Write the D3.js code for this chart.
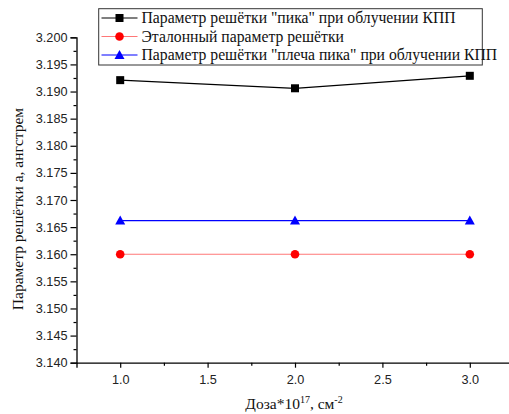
<!DOCTYPE html>
<html><head><meta charset="utf-8">
<script src="https://cdn.jsdelivr.net/npm/d3@7"></script>
<style>body{margin:0;background:#fff}svg{display:block}
.serif{font-family:"Liberation Serif","Times New Roman",serif}
.sans{font-family:"Liberation Sans",Arial,sans-serif}</style>
</head><body>
<svg id="c" width="509" height="414"></svg>
<script>
const doses = [1.0, 2.0, 3.0];
const peakValues = [3.1921, 3.1906, 3.1929];
const referenceValues = [3.160, 3.160, 3.160];
const shoulderValues = [3.1662, 3.1662, 3.1662];
const seriesNames = [
  'Параметр решётки "пика" при облучении КПП',
  'Эталонный параметр решётки',
  'Параметр решётки "плеча пика" при облучении КПП'
];
const xTicks = [1.0, 1.5, 2.0, 2.5, 3.0];
const yTicks = [3.140,3.145,3.150,3.155,3.160,3.165,3.170,3.175,3.180,3.185,3.190,3.195,3.200];

const svg = d3.select("#c");
const x = d3.scaleLinear().domain([0.75, 3.25]).range([76.5, 513.5]);
const y = d3.scaleLinear().domain([3.14, 3.20]).range([362.7, 37.3]);

const series = [
  {name: seriesNames[0], vals: peakValues, line: "#000", mark: "#000", shape: "square"},
  {name: seriesNames[1], vals: referenceValues, line: "#f77", mark: "#f00", shape: "circle"},
  {name: seriesNames[2], vals: shoulderValues, line: "#00f", mark: "#00f", shape: "triangle"}
];

function marker(g, shape, color, cx, cy) {
  if (shape === "square") g.append("rect").attr("x", cx-4).attr("y", cy-4).attr("width", 8).attr("height", 8).attr("fill", color);
  else if (shape === "circle") g.append("circle").attr("cx", cx).attr("cy", cy).attr("r", 4.3).attr("fill", color);
  else g.append("path").attr("d", `M${cx},${cy-5}L${cx+5},${cy+4}L${cx-5},${cy+4}Z`).attr("fill", color);
}

// Axes
const yAxis = svg.append("g").attr("transform", "translate(76.5,0)")
  .call(d3.axisLeft(y).tickValues(yTicks).tickFormat(d3.format(".3f")).tickSize(6).tickPadding(3));
const yMinor = svg.append("g").attr("transform", "translate(76.5,0)")
  .call(d3.axisLeft(y).tickValues(d3.range(0, 12).map(i => 3.1425 + i*0.005)).tickFormat("").tickSize(3));
const xAxis = svg.append("g").attr("transform", "translate(0,362.7)")
  .call(d3.axisBottom(x).tickValues(xTicks).tickFormat(d3.format(".1f")).tickSize(5).tickPadding(7));
const xMinor = svg.append("g").attr("transform", "translate(0,362.7)")
  .call(d3.axisBottom(x).tickValues([1.25,1.75,2.25,2.75]).tickFormat("").tickSize(3));
[yAxis, yMinor, xAxis, xMinor].forEach(a => {
  a.attr("font-family", null).attr("font-size", null);
  a.selectAll("path").attr("stroke", "#000").attr("stroke-width", 1.3);
  a.selectAll("line").attr("stroke", "#000").attr("stroke-width", 1.2);
  a.selectAll("text").attr("class", "sans").attr("font-size", 12.7).attr("fill", "#222");
});
yMinor.select("path").remove(); xMinor.select("path").remove();

// Lines and markers
const line = d3.line().x((d,i) => x(doses[i])).y(d => y(d));
series.forEach(s => {
  svg.append("path").attr("d", line(s.vals)).attr("fill", "none").attr("stroke", s.line).attr("stroke-width", 1.2);
  const g = svg.append("g");
  s.vals.forEach((v,i) => marker(g, s.shape, s.mark, x(doses[i]), y(v)));
});

// Legend
const lg = svg.append("g");
lg.append("rect").attr("x", 98.7).attr("y", 8.7).attr("width", 383.6).attr("height", 56.3)
  .attr("fill", "#fff").attr("stroke", "#333").attr("stroke-width", 1);
series.forEach((s, i) => {
  const cy = 18 + i*18.5;
  lg.append("line").attr("x1", 101.5).attr("x2", 137.5).attr("y1", cy).attr("y2", cy).attr("stroke", s.line).attr("stroke-width", 1.2);
  marker(lg, s.shape, s.mark, 119.5, cy);
  lg.append("text").attr("class", "serif").attr("x", 141.5).attr("y", cy + 5).text(s.name)
    .attr("font-size", 15.7).attr("fill", "#111");
});

// Axis titles
svg.append("text").attr("class", "serif").attr("transform", "translate(23,209) rotate(-90)").attr("text-anchor", "middle")
  .attr("font-size", 15.5).attr("fill", "#111")
  .text("Параметр решётки а, ангстрем");
const xt = svg.append("text").attr("class", "serif").attr("x", 294).attr("y", 409).attr("text-anchor", "middle")
  .attr("font-size", 15.5).attr("fill", "#111");
xt.append("tspan").text("Доза*10");
xt.append("tspan").attr("dy", -6).attr("font-size", 10).text("17");
xt.append("tspan").attr("dy", 6).text(", см");
xt.append("tspan").attr("dy", -6).attr("font-size", 10).text("-2");
</script>
</body></html>
